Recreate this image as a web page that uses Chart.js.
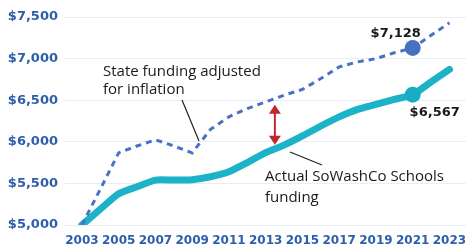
<!DOCTYPE html>
<html>
<head>
<meta charset="utf-8">
<script src="https://cdn.jsdelivr.net/npm/chart.js@4"></script>
<style>
html,body{margin:0;padding:0;background:#fff;}
#wrap{width:470px;height:246px;position:relative;}
</style>
</head>
<body>
<div id="wrap"><canvas id="c" width="470" height="246"></canvas></div>
<script>
const years = [2003,2004,2005,2006,2007,2008,2009,2010,2011,2012,2013,2014,2015,2016,2017,2018,2019,2020,2021,2022,2023];
const actualFunding = [5000,5190,5375,5460,5540,5540,5545,5580,5640,5750,5870,5960,6070,6190,6300,6390,6450,6510,6567,6720,6870];
const inflationAdjusted = [5000,5430,5867,5950,6024,5950,5867,6150,6300,6400,6480,6560,6630,6760,6900,6960,7000,7070,7128,7280,7430];
const xTickYears = [2003,2005,2007,2009,2011,2013,2015,2017,2019,2021,2023];
const yTicks = [5000,5500,6000,6500,7000,7500];
const highlightYear = 2021;
const arrowYear = 2013.5;
const arrowRange = [5964, 6446];

const tickColor = '#2d5eab';
const tickFamily = '"DejaVu Sans", sans-serif';

const pts = (vals) => years.map((y,i)=>({x:y, y:vals[i]}));

const annot = {
  id:'annot',
  afterDatasetsDraw(chart){
    const ctx = chart.ctx, xs = chart.scales.x, ys = chart.scales.y;
    ctx.save();
    // leader lines
    ctx.strokeStyle = '#222'; ctx.lineWidth = 1.2;
    ctx.beginPath(); ctx.moveTo(182,100); ctx.lineTo(199,141); ctx.stroke();
    ctx.beginPath(); ctx.moveTo(290,152); ctx.lineTo(322,165); ctx.stroke();
    // text
    ctx.fillStyle = '#1a1a1a';
    ctx.font = '15px "Open Sans", sans-serif';
    ctx.textBaseline = 'middle'; ctx.textAlign = 'left';
    ctx.fillText('State funding adjusted', 103, 72);
    ctx.fillText('for inflation', 103, 90);
    ctx.fillText('Actual SoWashCo Schools', 265, 177);
    ctx.fillText('funding', 265, 198);
    // value labels
    ctx.font = 'bold 13px "DejaVu Sans", sans-serif';
    ctx.textAlign = 'center';
    const i = years.indexOf(highlightYear);
    const hx = xs.getPixelForValue(highlightYear);
    ctx.fillText('$' + inflationAdjusted[i].toLocaleString('en-US'), hx - 17, ys.getPixelForValue(inflationAdjusted[i]) - 14);
    ctx.fillText('$' + actualFunding[i].toLocaleString('en-US'), hx + 22, ys.getPixelForValue(actualFunding[i]) + 18);
    // red double arrow
    const ax = xs.getPixelForValue(arrowYear);
    const y1 = ys.getPixelForValue(arrowRange[1]);
    const y2 = ys.getPixelForValue(arrowRange[0]);
    ctx.strokeStyle = '#c1272d'; ctx.fillStyle = '#c1272d'; ctx.lineWidth = 2;
    ctx.beginPath(); ctx.moveTo(ax, y1+6); ctx.lineTo(ax, y2-6); ctx.stroke();
    ctx.beginPath(); ctx.moveTo(ax, y1); ctx.lineTo(ax-6, y1+9); ctx.lineTo(ax+6, y1+9); ctx.closePath(); ctx.fill();
    ctx.beginPath(); ctx.moveTo(ax, y2); ctx.lineTo(ax-6, y2-9); ctx.lineTo(ax+6, y2-9); ctx.closePath(); ctx.fill();
    ctx.restore();
  }
};

new Chart(document.getElementById('c'), {
  type:'line',
  data:{
    datasets:[
      {
        label:'State funding adjusted for inflation',
        data: pts(inflationAdjusted),
        borderColor:'#4a72c2',
        borderWidth:3,
        borderDash:[6,5],
        pointRadius: years.map(y => y===highlightYear ? 8 : 0),
        pointBackgroundColor:'#4670c0',
        pointBorderWidth:0,
        tension:0
      },
      {
        label:'Actual SoWashCo Schools funding',
        data: pts(actualFunding),
        borderColor:'#1cb3c8',
        borderWidth:7,
        borderCapStyle:'round',
        borderJoinStyle:'round',
        pointRadius: years.map(y => y===highlightYear ? 8 : 0),
        pointBackgroundColor:'#17adc3',
        pointBorderWidth:0,
        tension:0.2
      }
    ]
  },
  options:{
    responsive:false,
    animation:false,
    layout:{padding:{left:0,right:4,top:17,bottom:0}},
    plugins:{legend:{display:false},tooltip:{enabled:false}},
    scales:{
      x:{
        type:'linear', min:2002.08, max:2023.9,
        afterBuildTicks:(s)=>{ s.ticks = xTickYears.map(v=>({value:v})); },
        afterFit:(s)=>{ s.height = 21; },
        grid:{display:false},
        border:{display:false},
        ticks:{color:tickColor, font:{family:tickFamily, size:12, weight:'bold'}, padding:1, maxRotation:0, autoSkip:false, callback:(v)=>String(v)}
      },
      y:{
        min:5000, max:7500,
        afterBuildTicks:(s)=>{ s.ticks = yTicks.map(v=>({value:v})); },
        afterFit:(s)=>{ s.width = 65; },
        grid:{color:'#e9eef5', drawTicks:false, lineWidth:1},
        border:{display:false},
        ticks:{color:tickColor, font:{family:tickFamily, size:13, weight:'bold'}, padding:7, callback:(v)=>'$' + v.toLocaleString('en-US')}
      }
    }
  },
  plugins:[annot]
});
</script>
</body>
</html>
